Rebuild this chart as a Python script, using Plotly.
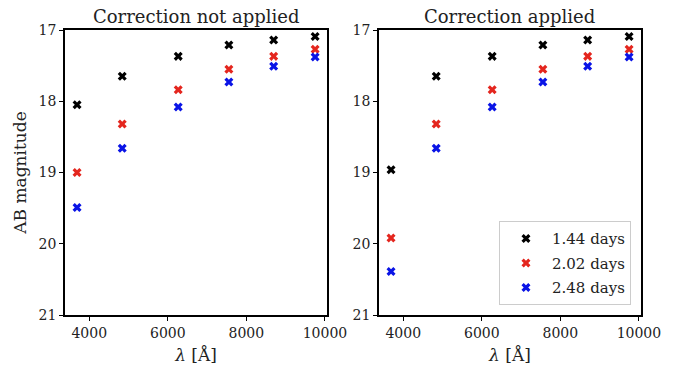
import plotly.graph_objects as go
from plotly.subplots import make_subplots

wavelength = [3690, 4840, 6265, 7555, 8695, 9750]
labels = ["1.44 days", "2.02 days", "2.48 days"]
colors = ["#000000", "#e4261e", "#0a14e6"]

mag_not_applied = {
    "1.44 days": [18.05, 17.65, 17.37, 17.21, 17.14, 17.09],
    "2.02 days": [19.00, 18.32, 17.84, 17.55, 17.37, 17.27],
    "2.48 days": [19.49, 18.66, 18.08, 17.73, 17.51, 17.38],
}
mag_applied = {
    "1.44 days": [18.96, 17.65, 17.37, 17.21, 17.14, 17.09],
    "2.02 days": [19.92, 18.32, 17.84, 17.55, 17.37, 17.27],
    "2.48 days": [20.39, 18.66, 18.08, 17.73, 17.51, 17.38],
}
titles = ["Correction not applied", "Correction applied"]
yticks = [17, 18, 19, 20, 21]
xticks = [4000, 6000, 8000, 10000]

FONT = "DejaVu Serif, serif"

fig = make_subplots(rows=1, cols=2, horizontal_spacing=0.0902)

for col, data in enumerate([mag_not_applied, mag_applied], start=1):
    for lab, c in zip(labels, colors):
        fig.add_trace(go.Scatter(
            x=wavelength, y=data[lab], mode="markers", name=lab,
            legendgroup=lab,
            marker=dict(symbol="x", size=8, color=c, line=dict(width=0)),
            showlegend=(col == 2),
        ), row=1, col=col)

axis_common = dict(showline=True, linecolor="black", linewidth=1.5, mirror=True,
                   ticks="outside", ticklen=4, tickwidth=1, tickcolor="black",
                   showgrid=False, zeroline=False,
                   tickfont=dict(family=FONT, size=14, color="#222"))

for col in (1, 2):
    fig.update_xaxes(range=[3383, 10053], tickvals=xticks,
                     ticktext=[str(v) for v in xticks],
                     title=dict(text="<i>λ</i> [Å]", font=dict(family=FONT, size=17, color="#222"), standoff=10),
                     row=1, col=col, **axis_common)
    fig.update_yaxes(range=[21, 17], tickvals=yticks,
                     ticktext=[str(v) for v in yticks],
                     row=1, col=col, **axis_common)

fig.update_yaxes(title=dict(text="AB magnitude", font=dict(family=FONT, size=17, color="#222"), standoff=8),
                 row=1, col=1)

fig.update_layout(
    width=683, height=374,
    margin=dict(l=65, r=42, t=30, b=57),
    plot_bgcolor="white", paper_bgcolor="white",
    font=dict(family=FONT, color="#222"),
    legend=dict(x=0.9826, y=0.034, xanchor="right", yanchor="bottom",
                bgcolor="rgba(255,255,255,0.9)", bordercolor="#cccccc", borderwidth=1,
                font=dict(family=FONT, size=15, color="#222"),
                itemwidth=42, tracegroupgap=2),
)

for i, t in enumerate(titles):
    xd = fig.layout["xaxis" if i == 0 else "xaxis2"].domain
    fig.add_annotation(text=t, xref="paper", yref="paper",
                       x=(xd[0] + xd[1]) / 2, y=1, yshift=1,
                       xanchor="center", yanchor="bottom", showarrow=False,
                       font=dict(family=FONT, size=18, color="#222"))

fig.write_html("out.html", config={"displayModeBar": False},
               post_script="document.body.style.margin='0';")
